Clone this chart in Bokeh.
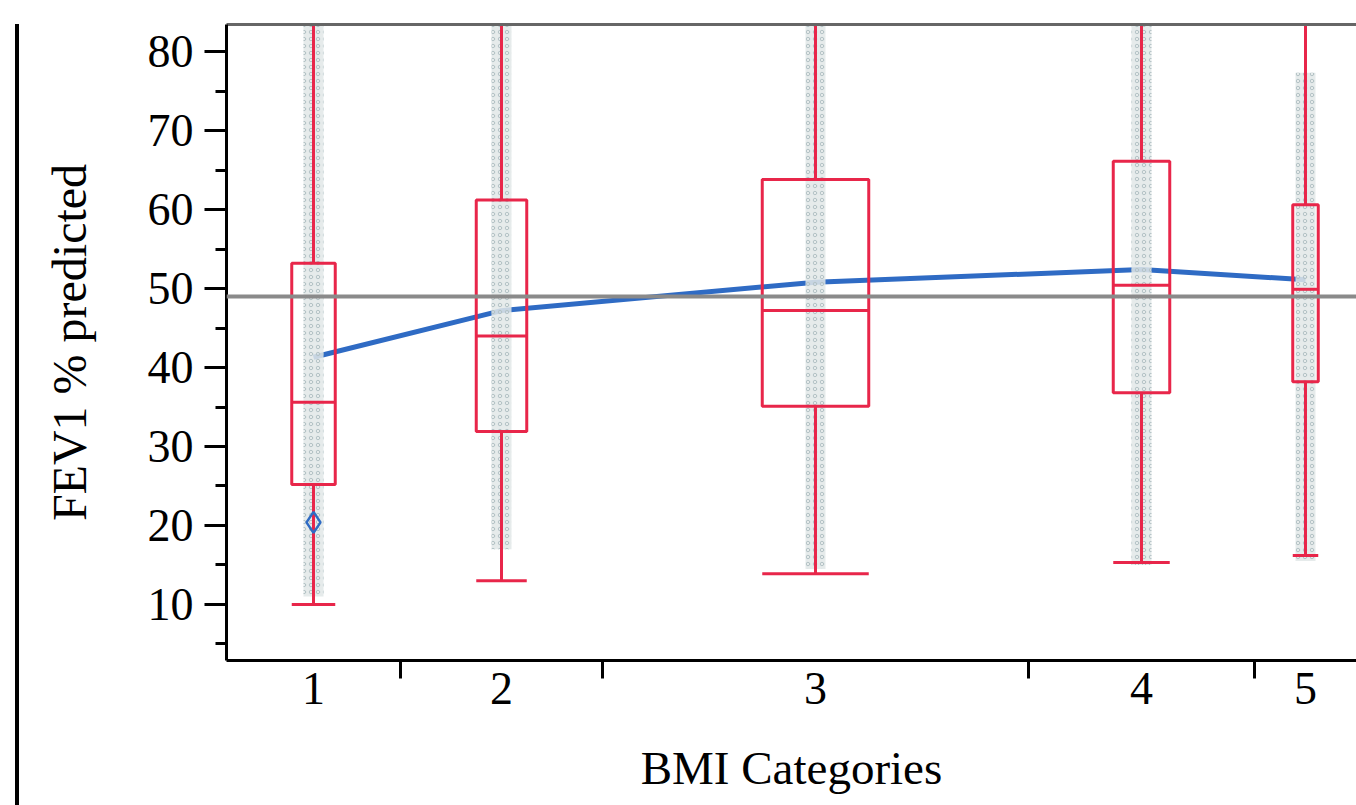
import numpy as np
from bokeh.plotting import figure
from bokeh.models import Range1d, FixedTicker, LinearAxis, ColumnDataSource, Span, Div
from bokeh.layouts import row
from bokeh.embed import file_html
from bokeh.resources import INLINE

# ---- data ----
categories = ["1", "2", "3", "4", "5"]
group_sizes = [174, 202, 426, 226, 102]          # relative group sizes (category widths)
q1 = [25.2, 31.9, 35.1, 36.8, 38.2]
median = [35.6, 44.0, 47.2, 50.4, 49.9]
q3 = [53.2, 61.2, 63.8, 66.1, 60.6]
lower_whisker = [10.0, 13.0, 13.9, 15.3, 16.2]
upper_whisker = [96.0, 98.0, 100.0, 99.0, 94.0]   # beyond the visible top
group_means = [41.3, 47.2, 50.8, 52.4, 51.1]
grand_mean = 49.0
point_min = [11.0, 17.0, 14.5, 15.0, 15.5]
point_max = [90.0, 90.0, 90.0, 90.0, 77.3]
highlight_cat = [0]
highlight_val = [20.4]
y_ticks = [10, 20, 30, 40, 50, 60, 70, 80]
y_minor = [5, 15, 25, 35, 45, 55, 65, 75]

RED = "#e8264a"
BLUE = "#2f6bc4"
FONT = "Liberation Serif"

sizes = np.array(group_sizes, dtype=float)
edges = np.concatenate([[0.0], np.cumsum(sizes)])
centers = (edges[:-1] + edges[1:]) / 2.0
boundaries = list(edges[1:-1])
box_w = sizes * 0.25
total = float(edges[-1])

src = ColumnDataSource(dict(
    x=centers, w=box_w, left=centers - box_w / 2, right=centers + box_w / 2,
    q1=q1, med=median, q3=q3, lo=lower_whisker, hi=upper_whisker,
    pmin=point_min, pmax=point_max, mean=group_means,
))

p = figure(width=1336, height=805, output_backend="svg", toolbar_location=None,
           x_range=Range1d(0, total), y_range=Range1d(2.91, 83.42),
           x_axis_type=None, y_axis_type=None,
           min_border_left=206, min_border_right=0, min_border_top=24,
           min_border_bottom=145)
p.outline_line_color = None
p.background_fill_color = "white"
p.border_fill_color = "white"

# grand mean line
p.add_layout(Span(location=grand_mean, dimension="width", line_color="#8a8a8a", line_width=4))

# line through group means
p.line("x", "mean", source=src, line_color=BLUE, line_width=5)

# point clouds
p.vbar(x="x", width=20, bottom="pmin", top="pmax", source=src,
       fill_color="#e2e8e8", fill_alpha=0.85, line_color=None,
       hatch_pattern="ring", hatch_color="#b3c2c5", hatch_scale=7, hatch_weight=1)

# whiskers
p.segment(x0="x", y0="q3", x1="x", y1="hi", source=src, line_color=RED, line_width=3)
p.segment(x0="x", y0="lo", x1="x", y1="q1", source=src, line_color=RED, line_width=3)
p.segment(x0="left", y0="lo", x1="right", y1="lo", source=src, line_color=RED, line_width=3)
p.segment(x0="left", y0="hi", x1="right", y1="hi", source=src, line_color=RED, line_width=3)
# boxes
p.quad(left="left", right="right", bottom="q1", top="q3", source=src,
       fill_color=None, line_color=RED, line_width=3)
p.segment(x0="left", y0="med", x1="right", y1="med", source=src, line_color=RED, line_width=3)

# highlighted point
p.scatter(x=[centers[i] for i in highlight_cat], y=highlight_val, marker="diamond",
          size=21, fill_color=None, line_color=BLUE, line_width=2.5)

# axes
yaxis = LinearAxis(ticker=FixedTicker(ticks=y_ticks, minor_ticks=y_minor),
                   axis_label="FEV1 % predicted")
yaxis.axis_line_width = 3
yaxis.axis_line_color = "black"
yaxis.major_tick_out = 22
yaxis.major_tick_in = 0
yaxis.minor_tick_out = 11
yaxis.minor_tick_in = 0
yaxis.major_tick_line_width = 3
yaxis.minor_tick_line_width = 3
yaxis.major_label_standoff = 11
yaxis.major_label_text_font = FONT
yaxis.major_label_text_font_size = "46px"
yaxis.major_label_text_color = "black"
yaxis.axis_label_text_font = FONT
yaxis.axis_label_text_font_size = "48px"
yaxis.axis_label_text_font_style = "normal"
yaxis.axis_label_text_color = "black"
yaxis.axis_label_standoff = 49
p.add_layout(yaxis, "left")

xaxis = LinearAxis(ticker=FixedTicker(ticks=list(centers), minor_ticks=boundaries),
                   axis_label="BMI Categories",
                   major_label_overrides={float(c): lab for c, lab in zip(centers, categories)})
xaxis.axis_line_width = 3
xaxis.axis_line_color = "black"
xaxis.major_tick_out = 0
xaxis.major_tick_in = 0
xaxis.minor_tick_out = 18
xaxis.minor_tick_in = 0
xaxis.minor_tick_line_width = 3
xaxis.major_label_standoff = -6
xaxis.major_label_text_font = FONT
xaxis.major_label_text_font_size = "46px"
xaxis.major_label_text_color = "black"
xaxis.axis_label_text_font = FONT
xaxis.axis_label_text_font_size = "47px"
xaxis.axis_label_text_font_style = "normal"
xaxis.axis_label_text_color = "black"
xaxis.axis_label_standoff = 35
p.add_layout(xaxis, "below")

top_axis = LinearAxis(ticker=FixedTicker(ticks=[]))
top_axis.axis_line_color = "#666666"
top_axis.axis_line_width = 3
top_axis.major_tick_out = 0
top_axis.minor_tick_out = 0
p.add_layout(top_axis, "above")

# left rule of the panel (outside the plot)
edge = Div(text='<div style="padding:24px 0 0 15px;margin:0">'
                '<div style="width:4px;height:781px;background:#000;margin:0"></div></div>',
           width=20, height=805, margin=(0, 0, 0, 0))

layout = row(edge, p, spacing=0)
open("out.html", "w").write(file_html(layout, INLINE))
